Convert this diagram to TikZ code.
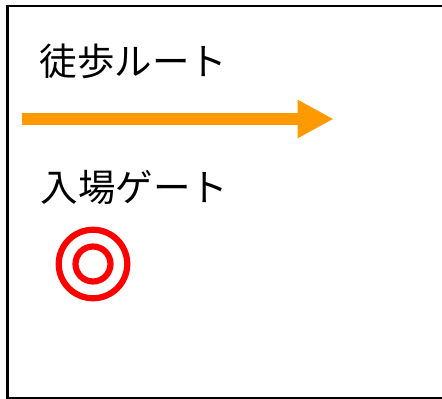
\documentclass[tikz,border=0pt]{standalone}
\usepackage{fontspec}
\newfontfamily\cjk{Noto Sans CJK JP}
\usetikzlibrary{arrows.meta}
\tikzset{
  frameline/.style={draw=black,line width=2.4pt},
  routearrow/.style={draw=routeorange,line width=12pt,-{Triangle[length=36pt,width=36pt]}},
  gatering/.style={circle,draw=red,line width=6.2pt,minimum size=#1,inner sep=0pt},
  legendtext/.style={font=\cjk\fontsize{37.5pt}{41pt}\selectfont,text=black,inner sep=0pt,anchor=center}
}
\definecolor{routeorange}{RGB}{255,153,0}
\begin{document}
\begin{tikzpicture}[x=1pt,y=-1pt]
\useasboundingbox (0,0) rectangle (442,399);
\fill[white] (0,0) rectangle (442,399);
\coordinate (ftr) at (442,6);
\coordinate (ftl) at (7.5,6);
\coordinate (fbl) at (7.5,398);
\coordinate (fbr) at (442,398);
\draw[frameline] (ftr) -- (ftl) -- (fbl) -- (fbr);
\node[legendtext] (walk) at (133.5,61) {徒歩ルート};
\coordinate (routestart) at (21.5,119);
\coordinate (routeend) at (333.5,119);
\draw[routearrow] (routestart) -- (routeend);
\node[legendtext] (gate) at (134.5,187) {入場ゲート};
\node[gatering=68.5pt] (gateouter) at (93,264) {};
\node[gatering=35pt] (gateinner) at (93,264) {};
\end{tikzpicture}
\end{document}
